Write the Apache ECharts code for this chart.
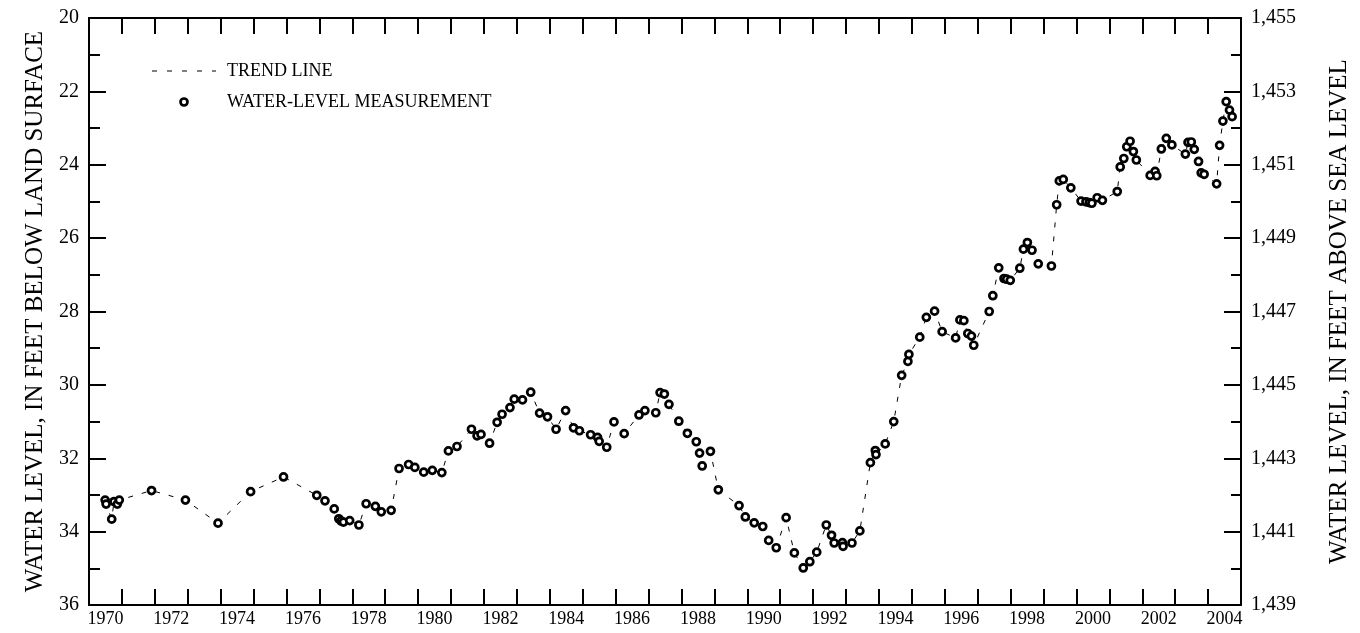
<!DOCTYPE html>
<html>
<head>
<meta charset="utf-8">
<script src="https://cdn.jsdelivr.net/npm/echarts@6/dist/echarts.min.js"></script>
<style>
html,body{margin:0;padding:0;background:#fff;}
#chart{width:1360px;height:633px;}
</style>
</head>
<body>
<div id="chart"></div>
<script>
// Decimal year of each water-level measurement
const years = [
1970.49,1970.52,1970.69,1970.76,1970.86,1970.92,1971.90,1972.93,1973.92,1974.91,
1975.91,1976.92,1977.17,1977.45,1977.59,1977.66,1977.73,1977.92,1978.20,1978.42,
1978.70,1978.88,1979.18,1979.42,1979.71,1979.90,1980.17,1980.43,1980.72,1980.92,
1981.18,1981.62,1981.79,1981.91,1982.17,1982.40,1982.55,1982.79,1982.92,1983.17,
1983.42,1983.69,1983.93,1984.19,1984.48,1984.72,1984.90,1985.24,1985.45,1985.50,
1985.73,1985.95,1986.26,1986.71,1986.89,1987.22,1987.35,1987.48,1987.62,1987.92,
1988.18,1988.45,1988.55,1988.63,1988.88,1989.12,1989.75,1989.94,1990.21,1990.47,
1990.65,1990.88,1991.18,1991.43,1991.70,1991.90,1992.11,1992.40,1992.56,1992.64,
1992.89,1992.91,1993.18,1993.42,1993.74,1993.89,1993.91,1994.19,1994.45,1994.69,
1994.88,1994.91,1995.24,1995.44,1995.69,1995.92,1996.33,1996.46,1996.58,1996.70,
1996.81,1996.88,1997.35,1997.46,1997.64,1997.80,1997.88,1997.99,1998.28,1998.39,
1998.51,1998.65,1998.84,1999.24,1999.40,1999.48,1999.60,1999.83,2000.14,2000.29,
2000.39,2000.47,2000.63,2000.79,2001.24,2001.33,2001.44,2001.53,2001.63,2001.73,
2001.82,2002.24,2002.39,2002.44,2002.58,2002.73,2002.90,2003.31,2003.39,2003.49,
2003.58,2003.71,2003.79,2003.88,2004.26,2004.35,2004.45,2004.55,2004.65,2004.73
];
// Water level, feet below land surface
const depths = [
33.14,33.25,33.66,33.18,33.25,33.14,32.88,33.14,33.77,32.91,
32.51,33.01,33.16,33.38,33.65,33.71,33.74,33.70,33.82,33.24,
33.31,33.46,33.42,32.28,32.17,32.25,32.38,32.33,32.39,31.80,
31.68,31.21,31.39,31.35,31.59,31.02,30.80,30.62,30.39,30.41,
30.20,30.77,30.87,31.21,30.70,31.17,31.25,31.36,31.43,31.54,
31.70,31.01,31.33,30.82,30.70,30.76,30.21,30.25,30.53,30.99,
31.32,31.55,31.86,32.21,31.81,32.86,33.29,33.60,33.76,33.86,
34.24,34.44,33.62,34.58,34.99,34.82,34.56,33.82,34.10,34.31,
34.30,34.40,34.31,33.98,32.12,31.79,31.90,31.61,31.00,29.74,
29.36,29.17,28.70,28.16,27.99,28.55,28.72,28.23,28.25,28.60,
28.67,28.92,28.00,27.57,26.81,27.10,27.12,27.15,26.82,26.30,
26.12,26.33,26.70,26.76,25.09,24.44,24.40,24.63,24.99,25.01,
25.03,25.05,24.90,24.97,24.73,24.06,23.83,23.51,23.36,23.64,
23.87,24.29,24.18,24.30,23.57,23.28,23.46,23.71,23.39,23.38,
23.58,23.91,24.22,24.26,24.52,23.47,22.81,22.28,22.51,22.69
];
// Year labels along the bottom (centered in each year)
const yearLabels = [];
for (let y = 1970; y <= 2004; y++) yearLabels.push(String(y));

const legendLabels = ['TREND LINE', 'WATER-LEVEL MEASUREMENT'];
const leftTitle = 'WATER LEVEL, IN FEET BELOW LAND SURFACE';
const rightTitle = 'WATER LEVEL, IN FEET ABOVE SEA LEVEL';

const pts = years.map((y, i) => [y, depths[i]]);
const FONT = '"Liberation Serif", "Times New Roman", serif';
const axisLineStyle = { color: '#000', width: 2 };

const chart = echarts.init(document.getElementById('chart'), null, { renderer: 'canvas' });
chart.setOption({
  backgroundColor: '#fff',
  animation: false,
  grid: { left: 89, right: 117, top: 18, bottom: 28, containLabel: false },
  xAxis: [
    { type: 'value', min: 1970, max: 2005, interval: 1, position: 'bottom',
      axisLine: { show: true, onZero: false, lineStyle: axisLineStyle },
      axisTick: { show: true, inside: true, length: 16, lineStyle: axisLineStyle },
      axisLabel: { show: false }, splitLine: { show: false } },
    { type: 'value', min: 1970, max: 2005, interval: 1, position: 'top',
      axisLine: { show: true, onZero: false, lineStyle: axisLineStyle },
      axisTick: { show: true, inside: true, length: 16, lineStyle: axisLineStyle },
      axisLabel: { show: false }, splitLine: { show: false } },
    { type: 'category', data: yearLabels, position: 'bottom', boundaryGap: true,
      axisLine: { show: false }, axisTick: { show: false },
      axisLabel: { interval: 1, margin: 5, fontFamily: FONT, fontSize: 18, color: '#000' },
      splitLine: { show: false } }
  ],
  yAxis: [
    { type: 'value', inverse: true, min: 20, max: 36, interval: 2, position: 'left',
      name: leftTitle, nameLocation: 'middle', nameGap: 40,
      nameTextStyle: { fontFamily: FONT, fontSize: 25, color: '#000' },
      axisLine: { show: true, onZero: false, lineStyle: axisLineStyle },
      axisTick: { show: true, inside: true, length: 17, lineStyle: axisLineStyle },
      minorTick: { show: true, splitNumber: 2, length: 11, lineStyle: axisLineStyle },
      axisLabel: { margin: 10, fontFamily: FONT, fontSize: 20, color: '#000' },
      splitLine: { show: false } },
    { type: 'value', min: 1439, max: 1455, interval: 2, position: 'right',
      name: rightTitle, nameLocation: 'middle', nameGap: 86,
      nameTextStyle: { fontFamily: FONT, fontSize: 25, color: '#000' },
      axisLine: { show: true, onZero: false, lineStyle: axisLineStyle },
      axisTick: { show: true, inside: true, length: 17, lineStyle: axisLineStyle },
      minorTick: { show: true, splitNumber: 2, length: 10, lineStyle: axisLineStyle },
      axisLabel: { margin: 10, fontFamily: FONT, fontSize: 20, color: '#000',
        formatter: v => v.toLocaleString('en-US') },
      splitLine: { show: false } }
  ],
  graphic: [
    { type: 'line', shape: { x1: 152, y1: 71, x2: 216, y2: 71 },
      style: { stroke: '#000', lineWidth: 1, lineDash: [5, 10] } },
    { type: 'text', left: 227, top: 62,
      style: { text: legendLabels[0], font: '18px ' + FONT, fill: '#000' } },
    { type: 'circle', shape: { cx: 184, cy: 102, r: 3.5 },
      style: { fill: '#fff', stroke: '#000', lineWidth: 2.7 } },
    { type: 'text', left: 227, top: 93,
      style: { text: legendLabels[1], font: '18px ' + FONT, fill: '#000' } }
  ],
  series: [
    { name: legendLabels[0], type: 'line', xAxisIndex: 0, yAxisIndex: 0, data: pts,
      showSymbol: false, symbol: 'none', silent: true, z: 2,
      lineStyle: { color: '#000', width: 1, type: [5, 9] } },
    { name: legendLabels[1], type: 'scatter', xAxisIndex: 0, yAxisIndex: 0, data: pts,
      symbol: 'circle', symbolSize: 7, z: 3,
      itemStyle: { color: '#fff', borderColor: '#000', borderWidth: 2.7, opacity: 1 } }
  ]
});
</script>
</body>
</html>
